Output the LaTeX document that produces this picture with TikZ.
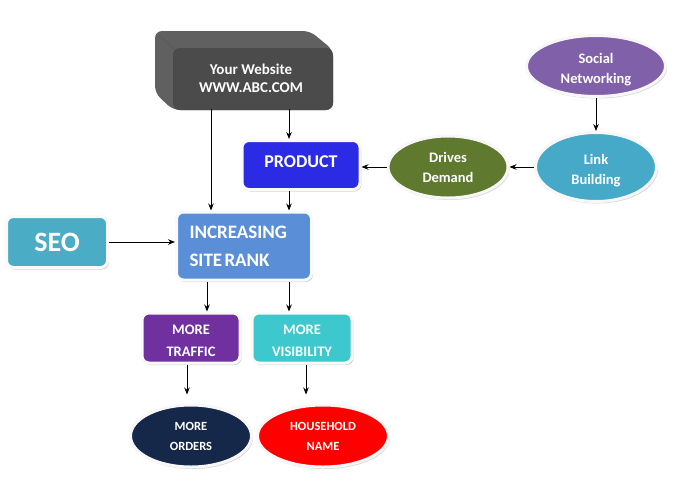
\documentclass[tikz,border=0pt]{standalone}
\usepackage{fontspec}
\setmainfont{Carlito}
\usetikzlibrary{shapes.geometric,arrows.meta,shadows}
\definecolor{webfront}{HTML}{4B4B4B}
\definecolor{webside}{HTML}{606060}
\definecolor{cproduct}{HTML}{2B2BE6}
\definecolor{cdrives}{HTML}{5F7A2E}
\definecolor{clink}{HTML}{46A9C8}
\definecolor{csocial}{HTML}{8060A8}
\definecolor{cseo}{HTML}{4BACC6}
\definecolor{crank}{HTML}{5A8FD8}
\definecolor{ctraffic}{HTML}{7030A0}
\definecolor{cvis}{HTML}{3CC8CC}
\definecolor{corders}{HTML}{16284A}
\definecolor{chouse}{HTML}{FF0000}
\begin{document}
\begin{tikzpicture}[x=1pt,y=-1pt,
  box/.style={rectangle, rounded corners=7pt, draw=white!96!gray, line width=3pt,
    text=white, align=center, inner sep=0pt,
    drop shadow={opacity=0.35, shadow xshift=1.5pt, shadow yshift=-2pt}},
  oval/.style={ellipse, draw=white!94!gray, line width=3pt, text=white, align=center, inner sep=0pt,
    drop shadow={opacity=0.3, shadow xshift=1.5pt, shadow yshift=-2pt}},
  fA/.style={font=\bfseries\fontsize{14.5}{20}\selectfont},
  fB/.style={font=\bfseries\fontsize{19}{28}\selectfont},
  fC/.style={font=\bfseries\fontsize{12.5}{20}\selectfont},
  arr/.style={draw=black, line width=0.8pt, -{Stealth[length=7pt,width=5.5pt]}}]
\useasboundingbox (0,0) rectangle (674,485);
\fill[white] (0,0) rectangle (674,485);

% website 3D box
\fill[webside, rounded corners=7pt] (155,31) -- (310,31) -- (333,50) -- (333,110) -- (173,110) -- (155,93) -- cycle;
\draw[gray!70!black, line width=0.6pt] (158,34) -- (175,50);
\fill[webfront, rounded corners=7pt] (173,48) rectangle (333,110);
\node[text=white, align=center, minimum width=160pt, minimum height=62pt, inner sep=0pt, font=\bfseries\fontsize{15}{18}\selectfont] (web) at (251,78) {Your Website\\WWW.ABC.COM};

\node[box, fill=cproduct, fB, font=\bfseries\fontsize{18}{28}\selectfont, minimum width=118pt, minimum height=49pt] (product) at (301,165) {\raisebox{3pt}[11pt][0pt]{PRODUCT}};
\node[oval, fill=cdrives, fA, minimum width=120pt, minimum height=62pt] (dd) at (448,167) {Drives\\Demand};
\node[oval, fill=clink, fA, minimum width=121pt, minimum height=69pt] (lb) at (596,167) {\rule{0pt}{17pt}Link\\Building};
\node[oval, fill=csocial, fA, minimum width=139pt, minimum height=61pt] (sn) at (596,66) {\rule{0pt}{18pt}Social\\Networking};

\node[box, fill=cseo, font=\bfseries\fontsize{28}{30}\selectfont, minimum width=101pt, minimum height=51pt] (seo) at (57,242) {SEO};
\node[box, fill=crank, fB, minimum width=135pt, minimum height=68pt, text width=109pt, align=left, inner xsep=13pt] (rank) at (244,246) {INCREASING\\SITE\hspace{0.12em}RANK};

\node[box, fill=ctraffic, font=\bfseries\fontsize{14.5}{22}\selectfont, minimum width=98pt, minimum height=50pt] (traffic) at (191,338) {\rule{0pt}{15.5pt}MORE\\TRAFFIC};
\node[box, fill=cvis, font=\bfseries\fontsize{14.5}{22}\selectfont, minimum width=100pt, minimum height=50pt] (vis) at (302,338) {\rule{0pt}{15.5pt}MORE\\VISIBILITY};

\node[oval, fill=corders, fC, minimum width=121pt, minimum height=62pt] (orders) at (191,436) {MORE\\ORDERS};
\node[oval, fill=chouse, fC, minimum width=131pt, minimum height=62pt] (house) at (323,436) {HOUSEHOLD\\NAME};

% helper x positions
\coordinate (xa) at (211,0);
\coordinate (xb) at (289,0);
\coordinate (xc) at (207,0);
\coordinate (xd) at (187,0);
\coordinate (xe) at (306,0);

\draw[arr] (web.south -| xa) -- (rank.north -| xa);
\draw[arr] (web.south -| xb) -- (product.north -| xb);
\draw[arr] (product.south -| xb) -- (rank.north -| xb);
\draw[arr] (dd.west) -- (product.east |- dd.west);
\draw[arr] (lb.west) -- (dd.east);
\draw[arr] (sn.south) -- (lb.north);
\draw[arr] (seo.east) -- (rank.west |- seo.east);
\draw[arr] (rank.south -| xc) -- (traffic.north -| xc);
\draw[arr] (rank.south -| xb) -- (vis.north -| xb);
\draw[arr, shorten >=9pt] (traffic.south -| xd) -- (orders.north -| xd);
\draw[arr, shorten >=9pt] (vis.south -| xe) -- (house.north -| xe);
\end{tikzpicture}
\end{document}
